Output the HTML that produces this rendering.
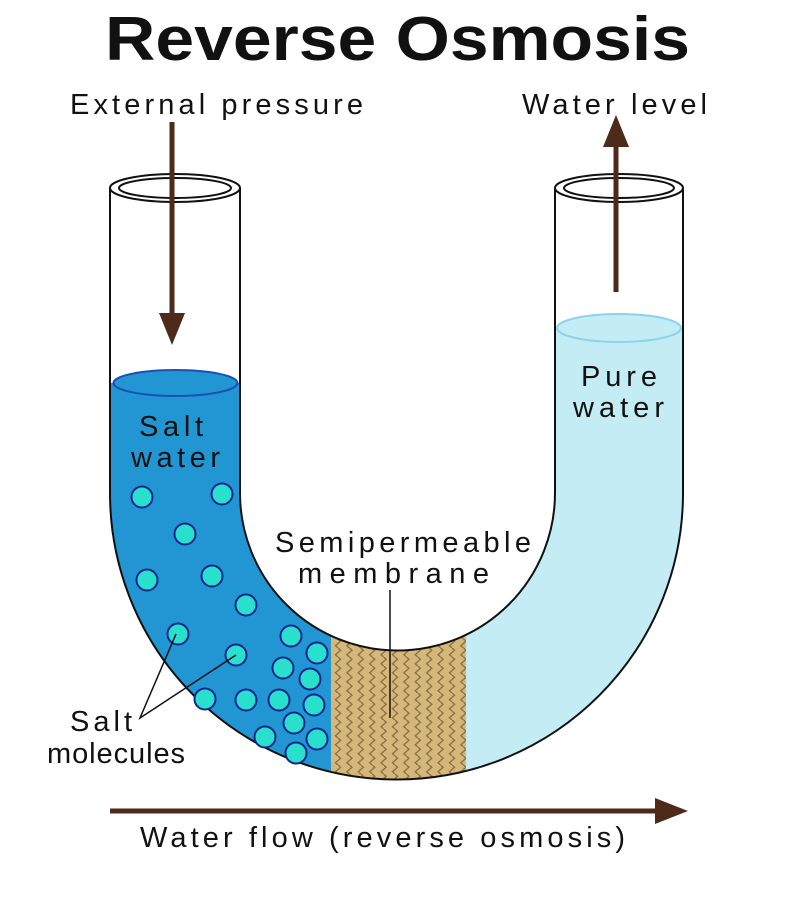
<!DOCTYPE html>
<html><head><style>
html,body{margin:0;padding:0;background:#fff;width:794px;height:900px;overflow:hidden}
svg{display:block}
text{font-family:"Liberation Sans",sans-serif;fill:#111}
</style></head><body>
<svg width="794" height="900" viewBox="0 0 794 900">
<defs>
<clipPath id="u"><path d="M110,188 L110,493 A286.5,286.5 0 0 0 683,493 L683,188 L555,188 L555,493 A157.5,157.5 0 0 1 240,493 L240,188 Z"/></clipPath>
<pattern id="wv" x="333" y="0" width="11.4" height="9" patternUnits="userSpaceOnUse">
<path d="M5,0 L7.5,2.25 L5,4.5 L2.5,6.75 L5,9" fill="none" stroke="#8a7045" stroke-width="1.4"/>
</pattern>
</defs>
<text x="105" y="60" font-size="62" font-weight="bold" textLength="585" lengthAdjust="spacingAndGlyphs">Reverse Osmosis</text>
<g clip-path="url(#u)">
<rect x="0" y="383" width="331" height="500" fill="#2196d3"/>
<rect x="466" y="328" width="330" height="500" fill="#c3ecf4"/>
<rect x="331" y="300" width="135" height="600" fill="#d5b879"/>
<rect x="331" y="300" width="135" height="600" fill="url(#wv)"/>
</g>
<ellipse cx="175.5" cy="383" rx="62" ry="13" fill="#2196d3" stroke="#1b4fb8" stroke-width="2"/>
<ellipse cx="619" cy="328" rx="62" ry="14" fill="#c3ecf4" stroke="#8dd3ee" stroke-width="2"/>
<path d="M110,188 L110,493 A286.5,286.5 0 0 0 683,493 L683,188 M555,188 L555,493 A157.5,157.5 0 0 1 240,493 L240,188" fill="none" stroke="#111" stroke-width="2"/>
<ellipse cx="175" cy="188" rx="65" ry="14" fill="none" stroke="#111" stroke-width="2"/>
<ellipse cx="175" cy="188" rx="56" ry="10" fill="none" stroke="#111" stroke-width="2"/>
<ellipse cx="619" cy="188" rx="64" ry="14" fill="none" stroke="#111" stroke-width="2"/>
<ellipse cx="619" cy="188" rx="55" ry="10" fill="none" stroke="#111" stroke-width="2"/>
<g fill="#29e0cc" stroke="#10258f" stroke-width="2">
<circle cx="142" cy="497" r="10.5"/><circle cx="222" cy="494" r="10.5"/><circle cx="185" cy="534" r="10.5"/>
<circle cx="147" cy="580" r="10.5"/><circle cx="212" cy="576" r="10.5"/><circle cx="246" cy="605" r="10.5"/>
<circle cx="178" cy="634" r="10.5"/><circle cx="236" cy="655" r="10.5"/><circle cx="291" cy="636" r="10.5"/>
<circle cx="317" cy="653" r="10.5"/><circle cx="283" cy="668" r="10.5"/><circle cx="310" cy="679" r="10.5"/>
<circle cx="205" cy="699" r="10.5"/><circle cx="246" cy="700" r="10.5"/><circle cx="279" cy="700" r="10.5"/>
<circle cx="314" cy="705" r="10.5"/><circle cx="294" cy="723" r="10.5"/><circle cx="265" cy="737" r="10.5"/>
<circle cx="317" cy="739" r="10.5"/><circle cx="296" cy="753" r="10.5"/>
</g>
<g stroke="#111" stroke-width="1.5" fill="none">
<path d="M176,634 L140,718 L236,655"/>
<path d="M390,590 L390,718"/>
</g>
<g fill="#4e2a1a" stroke="#4e2a1a">
<line x1="172" y1="122" x2="172" y2="318" stroke-width="5"/>
<polygon points="159,313 185,313 172,345" stroke="none"/>
<line x1="616" y1="292" x2="616" y2="140" stroke-width="5"/>
<polygon points="603,147 629,147 616,115" stroke="none"/>
<line x1="110" y1="811" x2="660" y2="811" stroke-width="5"/>
<polygon points="655,798 655,824 688,811" stroke="none"/>
</g>
<g font-size="29">
<text x="70" y="114" textLength="293">External pressure</text>
<text x="522" y="114" textLength="185">Water level</text>
<text x="139" y="436" textLength="64">Salt</text>
<text x="131" y="467" textLength="89">water</text>
<text x="581" y="386" textLength="76">Pure</text>
<text x="573" y="417" textLength="91">water</text>
<text x="275" y="552" textLength="256">Semipermeable</text>
<text x="298" y="583" textLength="191">membrane</text>
<text x="70" y="731" textLength="62">Salt</text>
<text x="47" y="763" textLength="138">molecules</text>
<text x="140" y="847" textLength="485">Water flow (reverse osmosis)</text>
</g>
</svg>
</body></html>
